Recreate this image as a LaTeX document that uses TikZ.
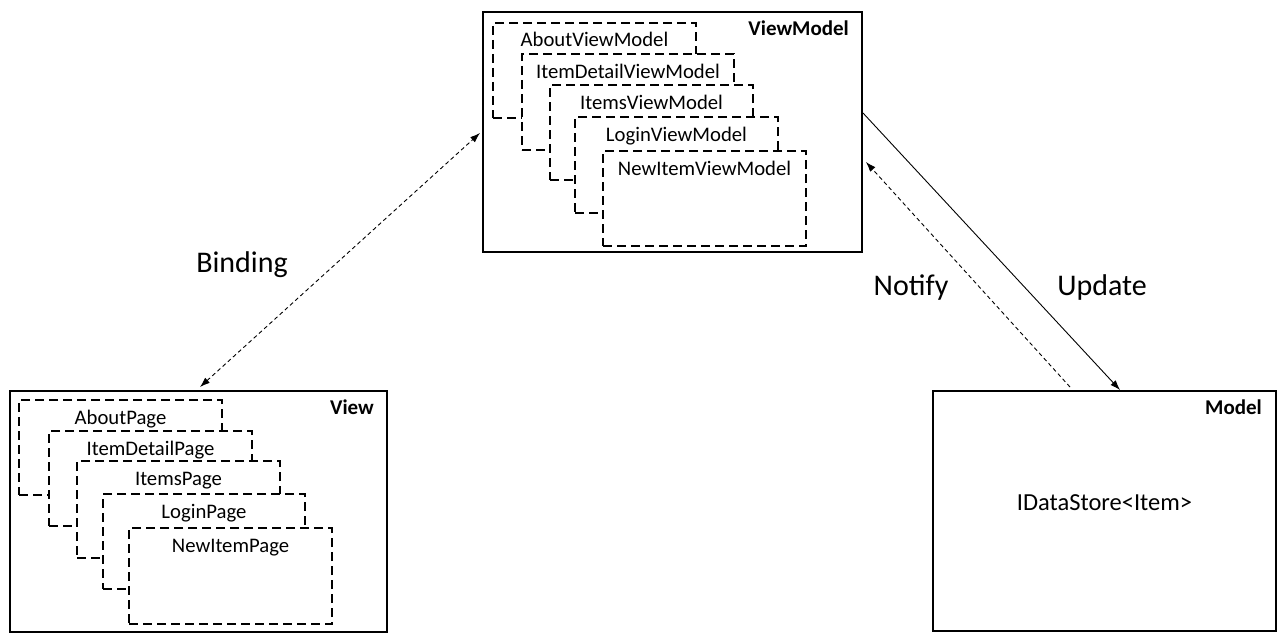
\documentclass[tikz,border=0pt]{standalone}
\usepackage{fontspec}
\setmainfont{Carlito}
\usetikzlibrary{arrows.meta}
\begin{document}
\begin{tikzpicture}[x=1pt,y=-1pt,
  outerbox/.style={draw, line width=2pt, anchor=north west, inner sep=0pt, fill=white},
  pagebox/.style={draw, line width=2pt, dash pattern=on 9pt off 5pt, anchor=north west,
    inner sep=0pt, fill=white, minimum width=203pt, minimum height=95pt},
  pagetext/.style={anchor=base, inner sep=0pt, font=\fontsize{20.7}{24}\selectfont},
  titletext/.style={anchor=base east, inner sep=0pt, font=\fontsize{21}{24}\selectfont\bfseries},
  arrowtext/.style={anchor=base, inner sep=0pt, font=\fontsize{30}{36}\selectfont},
  link/.style={line width=0.9pt, -{Latex[length=10pt,width=7pt]}},
  dashedlink/.style={line width=0.9pt, dash pattern=on 4pt off 3pt, -{Latex[length=10pt,width=7pt]}},
]
\useasboundingbox (0,0) rectangle (1287,642);

% ---- ViewModel layer ----
\node[outerbox, minimum width=379pt, minimum height=240pt] (vm) at (482,11) {};
\node[titletext] (vmtitle) at ([xshift=-14pt,yshift=-25pt]vm.north east) {ViewModel};
\node[pagebox] (vm1) at (492,22) {};
\node[pagetext] (vm1t) at ([yshift=-25pt]vm1.north) {AboutViewModel};
\node[pagebox, minimum width=212pt, minimum height=96pt] (vm2) at (521,53) {};
\node[pagetext] (vm2t) at ([yshift=-25pt]vm2.north) {ItemDetailViewModel};
\node[pagebox] (vm3) at (549,84) {};
\node[pagetext] (vm3t) at ([yshift=-25pt]vm3.north) {ItemsViewModel};
\node[pagebox, minimum height=96pt] (vm4) at (574,116) {};
\node[pagetext] (vm4t) at ([yshift=-25pt]vm4.north) {LoginViewModel};
\node[pagebox] (vm5) at (602,150) {};
\node[pagetext] (vm5t) at ([yshift=-25pt]vm5.north) {NewItemViewModel};

% ---- View layer ----
\node[outerbox, minimum width=377pt, minimum height=241pt] (view) at (9,390) {};
\node[titletext] (viewtitle) at ([xshift=-14pt,yshift=-24pt]view.north east) {View};
\node[pagebox] (v1) at (18,399) {};
\node[pagetext] (v1t) at ([yshift=-25pt]v1.north) {AboutPage};
\node[pagebox] (v2) at (48,430) {};
\node[pagetext] (v2t) at ([yshift=-25pt]v2.north) {ItemDetailPage};
\node[pagebox, minimum height=97pt] (v3) at (76,460) {};
\node[pagetext] (v3t) at ([yshift=-25pt]v3.north) {ItemsPage};
\node[pagebox, minimum width=202pt] (v4) at (102,493) {};
\node[pagetext] (v4t) at ([yshift=-25pt]v4.north) {LoginPage};
\node[pagebox, minimum height=96pt] (v5) at (128,527) {};
\node[pagetext] (v5t) at ([yshift=-25pt]v5.north) {NewItemPage};

% ---- Model layer ----
\node[outerbox, minimum width=343pt, minimum height=240pt] (model) at (932,390) {};
\node[titletext] (modeltitle) at ([xshift=-15pt,yshift=-24pt]model.north east) {Model};
\node[pagetext, font=\fontsize{24.5}{28}\selectfont] (store) at ([yshift=1pt]model.center) {IDataStore<Item>};

% ---- connectors ----
\draw[dashedlink, {Latex[length=10pt,width=7pt]}-{Latex[length=10pt,width=7pt]}]
  ([xshift=191pt,yshift=3pt]view.north west) -- ([xshift=-2pt,yshift=-122pt]vm.north west);
\draw[link] ([yshift=-102pt]vm.north east) -- ([xshift=188pt]model.north west);
\draw[dashedlink] ([xshift=138pt,yshift=3pt]model.north west) -- ([xshift=3pt,yshift=-151pt]vm.north east);

% ---- connector labels ----
\node[arrowtext] (binding) at (242,272) {Binding};
\node[arrowtext] (notify) at (911,295) {Notify};
\node[arrowtext] (update) at (1102,295) {Update};
\end{tikzpicture}
\end{document}
